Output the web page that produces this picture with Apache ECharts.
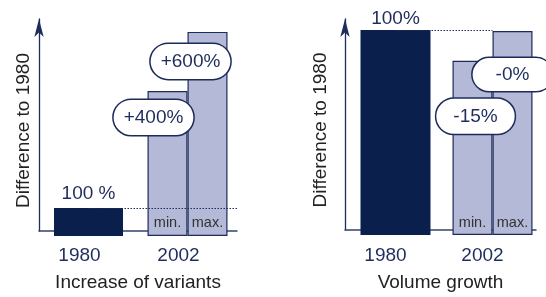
<!DOCTYPE html>
<html><head><meta charset="utf-8">
<script src="https://cdn.jsdelivr.net/npm/echarts@6/dist/echarts.min.js"></script>
<style>html,body{margin:0;padding:0;background:#fff}#c{width:546px;height:297px}</style>
</head><body><div id="c"></div>
<script>
// ---- data ----
const categories = ['1980', '2002'];
const variantsBase = [100, '-'];
const variantsMin = ['-', 518];
const variantsMax = ['-', 729];
const volumeBase = [100, '-'];
const volumeMin = ['-', 85];
const volumeMax = ['-', 99.5];
const variantsBaseLabel = '100 %';
const volumeBaseLabel = '100%';
const variantsBubbles = ['+400%', '+600%'];
const volumeBubbles = ['-15%', '-0%'];
const rangeTags = ['min.', 'max.'];
const yAxisTitle = 'Difference to 1980';
const chartTitles = ['Increase of variants', 'Volume growth'];
const yMax = [775, 105.4];
const refValue = 100;

// ---- style ----
const FONT = 'Liberation Sans, Arial, Helvetica, sans-serif';
const DARK = '#0b1f4d';
const NAVY = '#1e2d5c';
const LIGHT = '#b4b9d7';
const BORDER = '#1c2b5a';

const chart = echarts.init(document.getElementById('c'), null, {renderer: 'canvas'});

function frameX(grid, name, gap) {
  return {type: 'category', gridIndex: grid, data: categories,
    axisLine: {show: true, lineStyle: {color: '#34436c', width: 1.5}},
    axisTick: {show: false}, axisLabel: {show: false},
    name: name, nameLocation: 'middle', nameGap: gap,
    nameTextStyle: {fontFamily: FONT, fontSize: 19, color: '#222'}};
}
function frameY(grid, max, gap) {
  return {type: 'value', gridIndex: grid, min: 0, max: max,
    axisLine: {show: true, symbol: ['none', 'arrow'], symbolSize: [7, 18], lineStyle: {color: NAVY, width: 1.3}},
    axisTick: {show: false}, axisLabel: {show: false}, splitLine: {show: false},
    name: yAxisTitle, nameLocation: 'middle', nameRotate: 90, nameGap: gap,
    nameTextStyle: {fontFamily: FONT, fontSize: 19, color: '#222', padding: [0, 11, 0, 0]}};
}
function labelX(grid, margin, pad) {
  return {type: 'category', gridIndex: grid, data: categories,
    axisLine: {show: false}, axisTick: {show: false}, splitLine: {show: false},
    axisLabel: {show: true, margin: margin, color: NAVY, fontFamily: FONT, fontSize: 19, padding: [0, pad, 0, 0]}};
}
function hiddenX(grid) {
  return {type: 'category', gridIndex: grid, data: categories, show: false};
}
function hiddenY(grid, max) {
  return {type: 'value', gridIndex: grid, min: 0, max: max, show: false, splitLine: {show: false}};
}
function baseSeries(xi, yi, data, width, text, dist) {
  return {type: 'bar', xAxisIndex: xi, yAxisIndex: yi, data: data, barWidth: width,
    itemStyle: {color: DARK}, silent: true,
    label: {show: true, position: 'top', distance: dist, formatter: text,
      color: NAVY, fontFamily: FONT, fontSize: 19}};
}
function rangeSeries(xi, yi, data, bubble, dist, offset, pad) {
  return {type: 'bar', xAxisIndex: xi, yAxisIndex: yi, data: data, barWidth: 40, barGap: '0%',
    itemStyle: {color: LIGHT, borderColor: BORDER, borderWidth: 1.2}, silent: true,
    label: {show: true, position: 'insideTop', distance: dist, offset: offset, formatter: bubble,
      color: NAVY, fontFamily: FONT, fontSize: 19, lineHeight: 19,
      backgroundColor: '#fff', borderColor: BORDER, borderWidth: 1.5, borderRadius: 18, padding: pad}};
}
function tagSeries(xi, yi, data, tag, dist) {
  return {type: 'bar', xAxisIndex: xi, yAxisIndex: yi, data: data, barWidth: 40, barGap: '0%',
    itemStyle: {color: 'rgba(0,0,0,0)'}, silent: true, z: 3,
    label: {show: true, position: 'insideBottom', distance: dist, formatter: tag,
      color: '#333', fontFamily: FONT, fontSize: 14.5}};
}

const option = {
  animation: false,
  backgroundColor: '#fff',
  grid: [
    {left: 39, top: 19, width: 198, height: 217},
    {left: 39, top: 19, width: 198, height: 217},
    {left: 345, top: 19, width: 191, height: 216},
    {left: 347, top: 19, width: 194, height: 216}
  ],
  xAxis: [
    frameX(0, chartTitles[0], 42),
    labelX(1, 10, 18),
    hiddenX(1),
    hiddenX(1),
    frameX(2, chartTitles[1], 43),
    labelX(3, 11, 20),
    hiddenX(3),
    hiddenX(3)
  ],
  yAxis: [
    frameY(0, yMax[0], 6),
    hiddenY(1, yMax[0]),
    frameY(2, yMax[1], 15),
    hiddenY(3, yMax[1])
  ],
  series: [
    baseSeries(1, 1, variantsBase, 69, variantsBaseLabel, 5),
    rangeSeries(2, 1, variantsMin, variantsBubbles[0], 9, [-14, 0], [8, 10]),
    rangeSeries(2, 1, variantsMax, variantsBubbles[1], 12, [-17, 0], [8, 10]),
    tagSeries(3, 1, variantsMin, rangeTags[0], 6),
    tagSeries(3, 1, variantsMax, rangeTags[1], 6),
    baseSeries(5, 3, volumeBase, 70, volumeBaseLabel, 2),
    rangeSeries(6, 3, volumeMin, volumeBubbles[0], 38, [3, 0], [8, 17]),
    rangeSeries(6, 3, volumeMax, volumeBubbles[1], 27, [0, 0], [7, 23]),
    tagSeries(7, 3, volumeMin, rangeTags[0], 5),
    tagSeries(7, 3, volumeMax, rangeTags[1], 5)
  ]
};
chart.setOption(option);

// dotted reference lines at the 1980 level
const yL = chart.convertToPixel({yAxisIndex: 1}, refValue);
const aL = chart.convertToPixel({xAxisIndex: 1}, categories[0]);
const bL = chart.convertToPixel({xAxisIndex: 1}, categories[1]);
const yR = chart.convertToPixel({yAxisIndex: 3}, refValue);
const aR = chart.convertToPixel({xAxisIndex: 5}, categories[0]);
const bR = chart.convertToPixel({xAxisIndex: 5}, categories[1]);
const dotStyle = {stroke: NAVY, lineWidth: 1, lineDash: [1.5, 1.5]};
chart.setOption({graphic: [
  {type: 'line', z: 50, silent: true, shape: {x1: aL, y1: Math.round(yL) + 0.5, x2: bL + (bL - aL) / 2, y2: Math.round(yL) + 0.5}, style: dotStyle},
  {type: 'line', z: 50, silent: true, shape: {x1: aR, y1: Math.round(yR) + 0.5, x2: bR, y2: Math.round(yR) + 0.5}, style: dotStyle}
]});
</script>
</body></html>
